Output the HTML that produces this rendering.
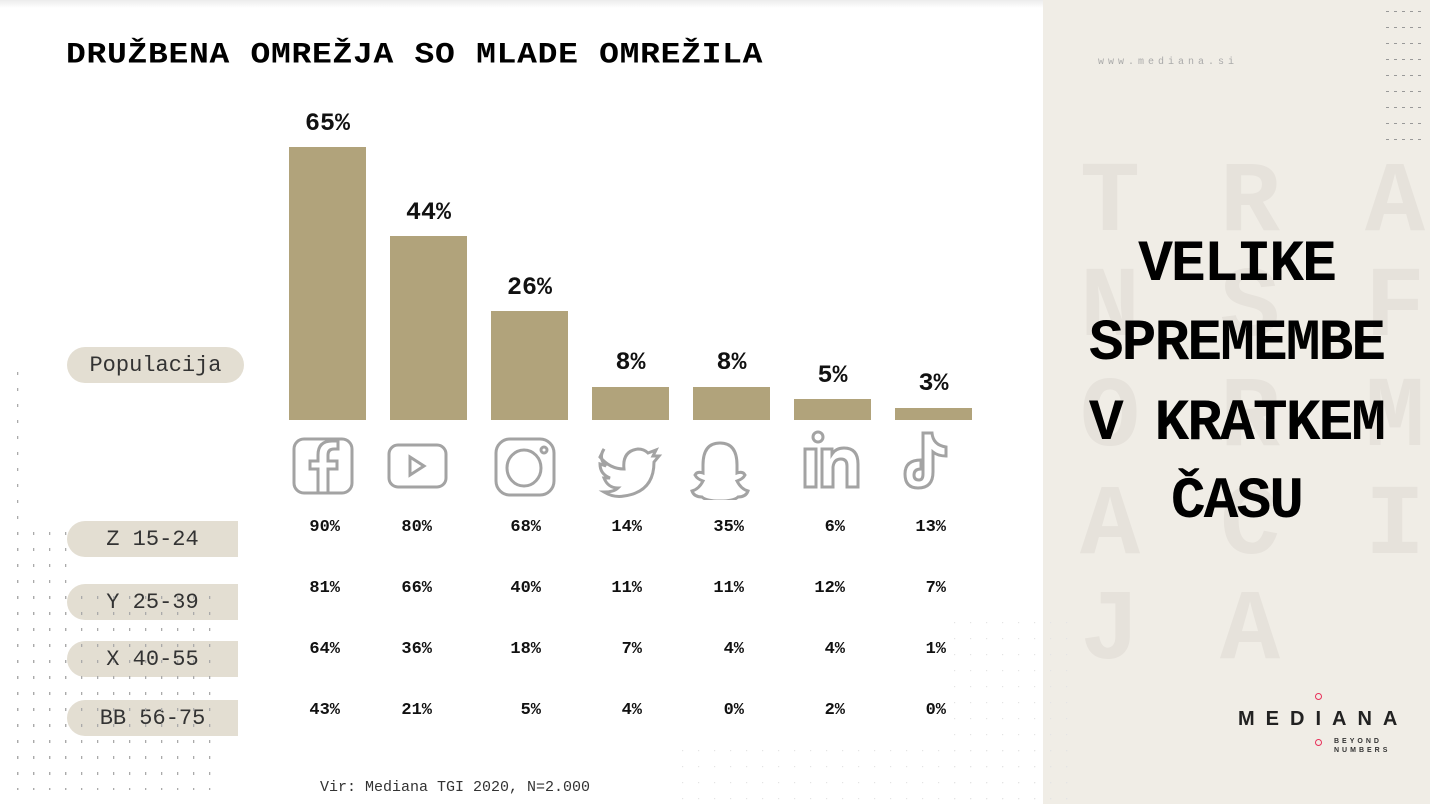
<!DOCTYPE html>
<html><head><meta charset="utf-8"><style>
body{margin:0;width:1430px;height:804px;overflow:hidden;background:#fff;position:relative;font-family:"Liberation Mono",monospace;}
.a{position:absolute;white-space:nowrap;}
.bar{position:absolute;background:#b1a37b;width:77px;}
.lab{position:absolute;font-weight:bold;font-size:25px;width:77px;text-align:center;color:#111;}
.pill{position:absolute;background:#e3ded2;border-radius:18px 0 0 18px;height:36px;font-size:22px;color:#333;text-align:center;line-height:38px;}
.v{position:absolute;font-weight:bold;font-size:17px;width:60px;text-align:right;color:#111;}
.bg{position:absolute;font-weight:bold;font-size:100px;color:#e6e2db;width:100px;text-align:center;line-height:1;}
.big{position:absolute;left:1043px;width:387px;text-align:center;font-weight:bold;font-size:58px;color:#000;font-family:"Liberation Mono",monospace;letter-spacing:-2px;}
</style></head><body>
<div class="a" style="left:0;top:0;width:1430px;height:8px;background:linear-gradient(#ececec,#fff)"></div>
<div class="a" style="left:1043px;top:0;width:387px;height:804px;background:#f0ede6"></div>
<div class="a" style="left:66px;top:38px;font-size:33px;font-weight:bold;letter-spacing:0.7px;transform:scaleY(0.9);transform-origin:left top;">DRUŽBENA OMREŽJA SO MLADE OMREŽILA</div>

<div class="bar" style="left:289px;top:147px;height:273px"></div><div class="lab" style="left:289px;top:109px">65%</div>
<div class="bar" style="left:390px;top:236px;height:184px"></div><div class="lab" style="left:390px;top:198px">44%</div>
<div class="bar" style="left:491px;top:311px;height:109px"></div><div class="lab" style="left:491px;top:273px">26%</div>
<div class="bar" style="left:592px;top:387px;height:33px"></div><div class="lab" style="left:592px;top:348px">8%</div>
<div class="bar" style="left:693px;top:387px;height:33px"></div><div class="lab" style="left:693px;top:348px">8%</div>
<div class="bar" style="left:794px;top:399px;height:21px"></div><div class="lab" style="left:794px;top:361px">5%</div>
<div class="bar" style="left:895px;top:408px;height:12px"></div><div class="lab" style="left:895px;top:369px">3%</div>

<svg class="a" style="left:280px;top:425px" width="700" height="75" fill="none" stroke="#a3a3a3" stroke-width="3">
<rect x="14" y="14" width="58" height="54" rx="10"/>
<path d="M48 68 V44 h9 v-8 h-9 v-6 q0-6 6-6 h4 v-8 h-6 q-14 0-14 14 v6 h-8 v8 h8 v24"/>
<rect x="109" y="20" width="57" height="42" rx="9"/><path d="M130 32 v18 l14-9z"/>
<rect x="216" y="14" width="58" height="56" rx="14"/><ellipse cx="244" cy="43" rx="17" ry="18"/><circle cx="264" cy="25" r="3"/>
<path d="M320 32 q10 12 24 12 q-2-18 14-20 q6 0 10 4 l8-3 -3 6 6 0 -5 6 q0 30 -30 34 q-10 2-20-4 q10 0 14-4 q-10 0-14-10 h6 q-10-4-10-14 l6 2 q-8-8-2-17z"/>
<path d="M440 18 q-17 0-17 22 l0 8 q-6 -2-8 2 q2 4 8 6 q-4 8-11 10 q2 6 10 6 q4 4 18 4 q14 0 18-4 q8 0 10-6 q-7-2-11-10 q6-2 8-6 q-2-4-8-2 l0-8 q0-22-17-22z"/>
<circle cx="538" cy="12" r="5"/><rect x="525" y="24" width="11" height="38"/><path d="M542 24 h10 v5 q4-6 12-6 q14 0 14 16 v23 h-11 v-21 q0-7-6-7 q-7 0-8 8 v20 h-11z"/>
<path d="M643 8 h9 q1 12 14 14 v9 q-8 0-13-4 v20 q0 16-15 16 q-13 0-13-14 q0-14 16-14 v9 q-7 0-7 6 q0 5 5 5 q4 0 4-6z"/>
</svg>

<div class="pill" style="left:67px;top:347px;width:177px;border-radius:18px">Populacija</div>
<div class="pill" style="left:67px;top:521px;width:171px">Z 15-24</div>
<div class="pill" style="left:67px;top:584px;width:171px">Y 25-39</div>
<div class="pill" style="left:67px;top:641px;width:171px">X 40-55</div>
<div class="pill" style="left:67px;top:700px;width:171px">BB 56-75</div>

<div id="t"></div>
<script>
var rows=[[90,80,68,14,35,6,13],[81,66,40,11,11,12,7],[64,36,18,7,4,4,1],[43,21,5,4,0,2,0]];
var ys=[518,579,640,701],xs=[340,432,541,642,744,845,946],h='';
rows.forEach(function(r,i){r.forEach(function(v,j){h+='<div class="v" style="left:'+(xs[j]-60)+'px;top:'+ys[i]+'px">'+v+'%</div>';});});
document.getElementById('t').innerHTML=h;
</script>
<div class="a" style="left:320px;top:779px;font-size:15px;color:#333">Vir: Mediana TGI 2020, N=2.000</div>

<svg class="a" style="left:15px;top:370px" width="210" height="420">
<pattern id="p" width="16" height="16" patternUnits="userSpaceOnUse"><rect x="2" y="2" width="1.3" height="3" fill="#aaa"/></pattern>
<rect x="0" y="0" width="10" height="420" fill="url(#p)"/><rect x="0" y="150" width="60" height="270" fill="url(#p)"/><rect x="0" y="220" width="200" height="200" fill="url(#p)"/></svg>
<svg class="a" style="left:680px;top:620px" width="400" height="180"><pattern id="q" width="16" height="16" patternUnits="userSpaceOnUse"><rect x="2" y="2" width="1.2" height="1.2" fill="#e4e4e4"/></pattern><rect x="260" y="0" width="140" height="180" fill="url(#q)"/><rect x="0" y="120" width="400" height="60" fill="url(#q)"/></svg>
<svg class="a" style="left:1385px;top:10px" width="40" height="135"><pattern id="r" width="8" height="16" patternUnits="userSpaceOnUse"><rect x="1" y="1" width="3" height="1" fill="#999"/></pattern><rect width="40" height="135" fill="url(#r)"/></svg>

<div class="a" style="left:1098px;top:57px;font-size:10px;color:#aaa;letter-spacing:4px">www.mediana.si</div>

<div class="bg" style="left:1060px;top:155px">T</div><div class="bg" style="left:1200px;top:155px">R</div><div class="bg" style="left:1345px;top:155px">A</div>
<div class="bg" style="left:1060px;top:260px">N</div><div class="bg" style="left:1200px;top:260px">S</div><div class="bg" style="left:1345px;top:260px">F</div>
<div class="bg" style="left:1060px;top:370px">O</div><div class="bg" style="left:1200px;top:370px">R</div><div class="bg" style="left:1345px;top:370px">M</div>
<div class="bg" style="left:1060px;top:478px">A</div><div class="bg" style="left:1200px;top:478px">C</div><div class="bg" style="left:1345px;top:478px">I</div>
<div class="bg" style="left:1060px;top:583px">J</div><div class="bg" style="left:1200px;top:583px">A</div>

<div class="big" style="top:233px">VELIKE</div>
<div class="big" style="top:312px">SPREMEMBE</div>
<div class="big" style="top:392px">V KRATKEM</div>
<div class="big" style="top:470px">ČASU</div>

<div class="a" style="left:1315px;top:693px;width:7px;height:7px;border:1.5px solid #e8305a;border-radius:50%;box-sizing:border-box"></div>
<div class="a" style="left:1238px;top:708px;font-family:'Liberation Sans',sans-serif;font-weight:bold;font-size:20px;letter-spacing:11px;color:#222">MEDIANA</div>
<div class="a" style="left:1315px;top:739px;width:7px;height:7px;border:1.5px solid #e8305a;border-radius:50%;box-sizing:border-box"></div>
<div class="a" style="left:1334px;top:737px;font-family:'Liberation Sans',sans-serif;font-weight:bold;font-size:7px;letter-spacing:3px;line-height:9px;color:#333">BEYOND<br>NUMBERS</div>
</body></html>
